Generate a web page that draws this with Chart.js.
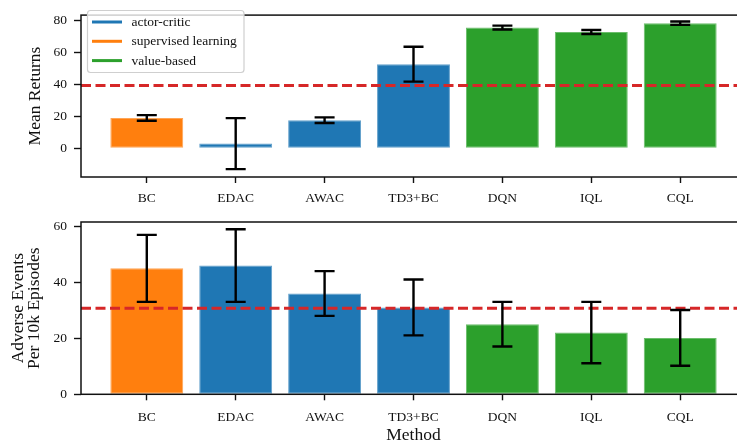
<!DOCTYPE html>
<html>
<head>
<meta charset="utf-8">
<script src="https://cdn.jsdelivr.net/npm/chart.js@4.4.1/dist/chart.umd.min.js"></script>
<style>
  html, body { margin: 0; padding: 0; background: #fff; overflow: hidden; width: 737px; height: 441px; }
  #topWrap { position: absolute; left: 0; top: 0; }
  #bottomWrap { position: absolute; left: 0; top: 200px; }
</style>
</head>
<body>
<div id="topWrap"><canvas id="returnsChart" width="760" height="210"></canvas></div>
<div id="bottomWrap"><canvas id="adverseChart" width="760" height="250"></canvas></div>
<script>
// Offline RL methods grouped by algorithm family
const methods = ['BC', 'EDAC', 'AWAC', 'TD3+BC', 'DQN', 'IQL', 'CQL'];
const methodFamily = ['supervised learning', 'actor-critic', 'actor-critic', 'actor-critic', 'value-based', 'value-based', 'value-based'];
const legendFamilies = ['actor-critic', 'supervised learning', 'value-based'];
const familyColors = { 'actor-critic': '#1f77b4', 'supervised learning': '#ff7f0e', 'value-based': '#2ca02c' };

// Mean returns with error half-widths, plus the reference (dashed) level
const meanReturns = [19.0, 2.9, 17.6, 52.7, 75.7, 72.9, 78.4];
const meanReturnsErr = [1.75, 16.0, 1.75, 10.9, 1.2, 1.25, 1.05];
const returnsReference = 39.4;
const returnsTicks = [0, 20, 40, 60, 80];

// Adverse events per 10k episodes with error half-widths, plus reference level
const adverseEvents = [45.1, 46.1, 36.1, 31.1, 25.1, 22.1, 20.2];
const adverseEventsErr = [12, 13, 8, 10, 8, 11, 10];
const adverseReference = 30.8;
const adverseTicks = [0, 20, 40, 60];

const SERIF = '"Liberation Serif", "Times New Roman", serif';
const INK = '#111111';

function lighten(hex, t) {
  const n = parseInt(hex.slice(1), 16);
  const r = (n >> 16) & 255, g = (n >> 8) & 255, b = n & 255;
  const m = c => Math.round(c + (255 - c) * t);
  return `rgb(${m(r)},${m(g)},${m(b)})`;
}

// Black error bars with caps, centred on each bar value
const errorBarPlugin = {
  id: 'errorBars',
  afterDatasetsDraw(chart, args, opts) {
    const { ctx, scales: { x, y } } = chart;
    ctx.save();
    ctx.strokeStyle = '#000';
    ctx.lineWidth = 2.4;
    opts.values.forEach((v, i) => {
      const px = x.getPixelForValue(i);
      const hi = y.getPixelForValue(v + opts.errors[i]);
      const lo = y.getPixelForValue(v - opts.errors[i]);
      ctx.beginPath();
      ctx.moveTo(px, hi); ctx.lineTo(px, lo);
      ctx.moveTo(px - 10, hi); ctx.lineTo(px + 10, hi);
      ctx.moveTo(px - 10, lo); ctx.lineTo(px + 10, lo);
      ctx.stroke();
    });
    ctx.restore();
  }
};

// Box frame around the plotting area
const framePlugin = {
  id: 'frame',
  afterDatasetsDraw(chart) {
    const { ctx, chartArea: a } = chart;
    ctx.save();
    ctx.strokeStyle = INK;
    ctx.lineWidth = 1.5;
    ctx.strokeRect(a.left, a.top, a.right - a.left, a.bottom - a.top);
    ctx.restore();
  }
};

// Family legend with line swatches inside a rounded box
const familyLegendPlugin = {
  id: 'familyLegend',
  afterDraw(chart, args, opts) {
    if (!opts.show) return;
    const { ctx } = chart;
    ctx.save();
    const bx = 87.5, by = 10.5, bw = 156.5, bh = 62, r = 3;
    ctx.beginPath();
    ctx.roundRect(bx, by, bw, bh, r);
    ctx.fillStyle = 'rgba(255,255,255,0.8)';
    ctx.fill();
    ctx.strokeStyle = '#cfcfcf';
    ctx.lineWidth = 1.2;
    ctx.stroke();
    ctx.font = '13.5px ' + SERIF;
    ctx.textBaseline = 'middle';
    ctx.textAlign = 'left';
    legendFamilies.forEach((fam, i) => {
      const ly = 22 + i * 19.3;
      ctx.strokeStyle = familyColors[fam];
      ctx.lineWidth = 3;
      ctx.beginPath();
      ctx.moveTo(92, ly); ctx.lineTo(122, ly);
      ctx.stroke();
      ctx.fillStyle = INK;
      ctx.fillText(fam, 131.5, ly + 0.5);
    });
    ctx.restore();
  }
};

function buildPanel(canvasId, cfg) {
  const colors = methodFamily.map(f => familyColors[f]);
  return new Chart(document.getElementById(canvasId), {
    type: 'bar',
    data: {
      datasets: [
        {
          type: 'line',
          data: [{ x: -0.74, y: cfg.reference }, { x: 6.74, y: cfg.reference }],
          borderColor: '#d62728',
          borderWidth: 3,
          borderDash: [10, 4.5],
          pointRadius: 0,
          order: 0
        },
        {
          type: 'bar',
          data: cfg.values.map((v, i) => ({ x: i, y: v })),
          backgroundColor: colors,
          borderColor: colors.map(c => lighten(c, 0.3)),
          borderWidth: 1,
          borderSkipped: false,
          barPercentage: 0.82,
          categoryPercentage: 1.0,
          order: 1
        }
      ]
    },
    options: {
      responsive: false,
      animation: false,
      layout: { padding: { top: cfg.padTop, right: 14, left: 0, bottom: 0 } },
      plugins: {
        legend: { display: false },
        tooltip: { enabled: false },
        errorBars: { values: cfg.values, errors: cfg.errors },
        familyLegend: { show: cfg.legend }
      },
      scales: {
        x: {
          type: 'linear',
          offset: false,
          min: -0.74,
          max: 6.74,
          afterBuildTicks: s => { s.ticks = methods.map((_, i) => ({ value: i })); },
          afterFit: s => { s.height = cfg.xHeight; },
          ticks: {
            autoSkip: false,
            maxRotation: 0,
            padding: cfg.xTickPad,
            color: INK,
            font: { family: SERIF, size: 13.5 },
            callback: v => methods[v]
          },
          grid: { offset: false, drawOnChartArea: false, drawTicks: true, tickLength: 6, color: INK, tickWidth: 1.4 },
          border: { display: false },
          title: cfg.xTitle ? {
            display: true, text: cfg.xTitle, color: INK,
            font: { family: SERIF, size: 17.5 },
            padding: { top: 0, bottom: 4 }
          } : { display: false }
        },
        y: {
          min: cfg.yMin,
          max: cfg.yMax,
          afterBuildTicks: s => { s.ticks = cfg.ticks.map(v => ({ value: v })); },
          afterFit: s => { s.width = 81; },
          ticks: { padding: 7, color: INK, font: { family: SERIF, size: 13.5 } },
          grid: { drawOnChartArea: false, drawTicks: true, tickLength: 7, color: INK, tickWidth: 1.4 },
          border: { display: false },
          title: {
            display: true, text: cfg.yTitle, color: INK,
            font: { family: SERIF, size: cfg.yTitleSize, lineHeight: cfg.yTitleLine },
            padding: { top: cfg.yTitlePad, bottom: 0 }
          }
        }
      }
    },
    plugins: [errorBarPlugin, framePlugin, familyLegendPlugin]
  });
}

buildPanel('returnsChart', {
  values: meanReturns, errors: meanReturnsErr, reference: returnsReference,
  ticks: returnsTicks, yMin: -18.06, yMax: 83.5,
  yTitle: 'Mean Returns', yTitleSize: 17.5, yTitleLine: 1.2, yTitlePad: 25,
  padTop: 4, xHeight: 33, xTickPad: 7, xTitle: null, legend: true
});

buildPanel('adverseChart', {
  values: adverseEvents, errors: adverseEventsErr, reference: adverseReference,
  ticks: adverseTicks, yMin: 0, yMax: 61.7,
  yTitle: ['Adverse Events', 'Per 10k Episodes'], yTitleSize: 17.5, yTitleLine: '16px', yTitlePad: 10.3,
  padTop: 22, xHeight: 55.7, xTickPad: 9.5, xTitle: 'Method', legend: false
});
</script>
</body>
</html>
